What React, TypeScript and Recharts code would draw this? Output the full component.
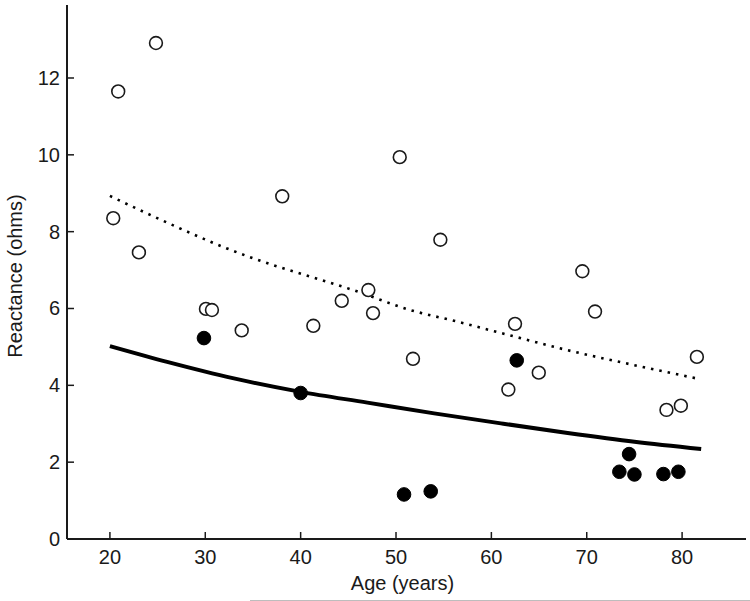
import React from "react";
import { ComposedChart, Line, Scatter, XAxis, YAxis } from "recharts";

// open circles
const openAge = [20.35, 20.87, 24.83, 23.04, 30.07, 30.7, 33.82, 38.07, 41.33, 44.31, 47.1, 47.59, 50.39, 51.78, 54.65, 61.78, 62.48, 64.97, 69.54, 70.87, 78.36, 79.87, 81.55];
const openReactance = [8.35, 11.65, 12.91, 7.46, 5.99, 5.96, 5.43, 8.92, 5.55, 6.2, 6.48, 5.88, 9.94, 4.69, 7.79, 3.89, 5.6, 4.33, 6.97, 5.92, 3.36, 3.47, 4.74];

// filled circles
const filledAge = [29.86, 40.0, 50.84, 53.64, 62.66, 73.42, 74.44, 75.0, 78.04, 79.61];
const filledReactance = [5.23, 3.8, 1.16, 1.24, 4.65, 1.75, 2.21, 1.68, 1.69, 1.75];

// dotted curve
const upperAge = [20, 23.5, 27.3, 32.2, 37.1, 40.5, 45.5, 51.5, 56.4, 61.8, 67.9, 74.9, 81.5];
const upperReactance = [8.93, 8.52, 8.09, 7.57, 7.13, 6.87, 6.48, 5.96, 5.66, 5.31, 4.92, 4.53, 4.18];

// solid curve
const lowerAge = [20, 26, 33, 40, 47, 54, 61, 68, 75, 82];
const lowerReactance = [5.02, 4.61, 4.18, 3.83, 3.55, 3.27, 3.01, 2.76, 2.53, 2.34];

const xTicks = [20, 30, 40, 50, 60, 70, 80];
const yTicks = [0, 2, 4, 6, 8, 10, 12];

const toPoints = (xs: number[], ys: number[]) => xs.map((x, i) => ({ x, y: ys[i] }));

const openData = toPoints(openAge, openReactance);
const filledData = toPoints(filledAge, filledReactance);
const upperData = toPoints(upperAge, upperReactance);
const lowerData = toPoints(lowerAge, lowerReactance);

const INK = "#1a1a1a";
const FONT = "'Liberation Sans', Arial, sans-serif";
const FS = 20;

const XTick = (props: any) => {
  const { x, y, payload } = props;
  return (
    <g>
      <line x1={x} y1={y} x2={x} y2={y - 7} stroke={INK} strokeWidth={1.5} />
      <text x={x} y={y + 18} textAnchor="middle" dominantBaseline="central" fontSize={FS} fontFamily={FONT} fill={INK}>
        {payload.value}
      </text>
    </g>
  );
};

const YTick = (props: any) => {
  const { x, y, payload } = props;
  return (
    <g>
      <line x1={x} y1={y} x2={x + 7} y2={y} stroke={INK} strokeWidth={1.5} />
      <text x={x - 7} y={y} textAnchor="end" dominantBaseline="central" fontSize={FS} fontFamily={FONT} fill={INK}>
        {payload.value}
      </text>
    </g>
  );
};

const XTitle = (props: any) => {
  const { viewBox } = props;
  return (
    <text x={viewBox.x + viewBox.width / 2 - 4} y={viewBox.y + 44} textAnchor="middle" dominantBaseline="central" fontSize={FS} fontFamily={FONT} fill={INK}>
      Age (years)
    </text>
  );
};

const YTitle = (props: any) => {
  const { viewBox } = props;
  const cx = 15;
  const cy = viewBox.y + viewBox.height / 2 + 4;
  return (
    <text x={cx} y={cy} transform={`rotate(-90, ${cx}, ${cy})`} textAnchor="middle" dominantBaseline="central" fontSize={FS} fontFamily={FONT} fill={INK}>
      Reactance (ohms)
    </text>
  );
};

const OpenDot = (props: any) => (
  <circle cx={props.cx} cy={props.cy} r={6.4} fill="#fff" stroke={INK} strokeWidth={1.6} />
);

const FilledDot = (props: any) => (
  <circle cx={props.cx} cy={props.cy} r={6.8} fill="#000" stroke="#000" strokeWidth={1} />
);

export default function App() {
  return (
    <div style={{ position: "absolute", left: 0, top: 0, width: 750, height: 601, background: "#fff" }}>
      <ComposedChart width={750} height={601} margin={{ top: 5, right: 4, bottom: 0, left: 0 }}>
        <XAxis
          type="number"
          dataKey="x"
          domain={[15.5, 86.7]}
          ticks={xTicks}
          height={62}
          tickSize={0}
          tickMargin={0}
          tick={<XTick />}
          axisLine={{ stroke: INK, strokeWidth: 2 }}
          tickLine={false}
          allowDataOverflow
          label={<XTitle />}
        />
        <YAxis
          type="number"
          dataKey="y"
          domain={[0, 13.9]}
          ticks={yTicks}
          width={67}
          tickSize={0}
          tickMargin={0}
          tick={<YTick />}
          axisLine={{ stroke: INK, strokeWidth: 2 }}
          tickLine={false}
          allowDataOverflow
          label={<YTitle />}
        />
        <Line
          data={upperData}
          dataKey="y"
          type="monotone"
          stroke="#000"
          strokeWidth={2.6}
          strokeDasharray="2.5 6"
          dot={false}
          activeDot={false}
          isAnimationActive={false}
        />
        <Line
          data={lowerData}
          dataKey="y"
          type="monotone"
          stroke="#000"
          strokeWidth={4}
          dot={false}
          activeDot={false}
          isAnimationActive={false}
        />
        <Scatter data={openData} dataKey="y" shape={<OpenDot />} isAnimationActive={false} />
        <Scatter data={filledData} dataKey="y" shape={<FilledDot />} isAnimationActive={false} />
      </ComposedChart>
      <div style={{ position: "absolute", left: 250, top: 600, width: 500, height: 1, background: "#bdbdbd" }} />
    </div>
  );
}
